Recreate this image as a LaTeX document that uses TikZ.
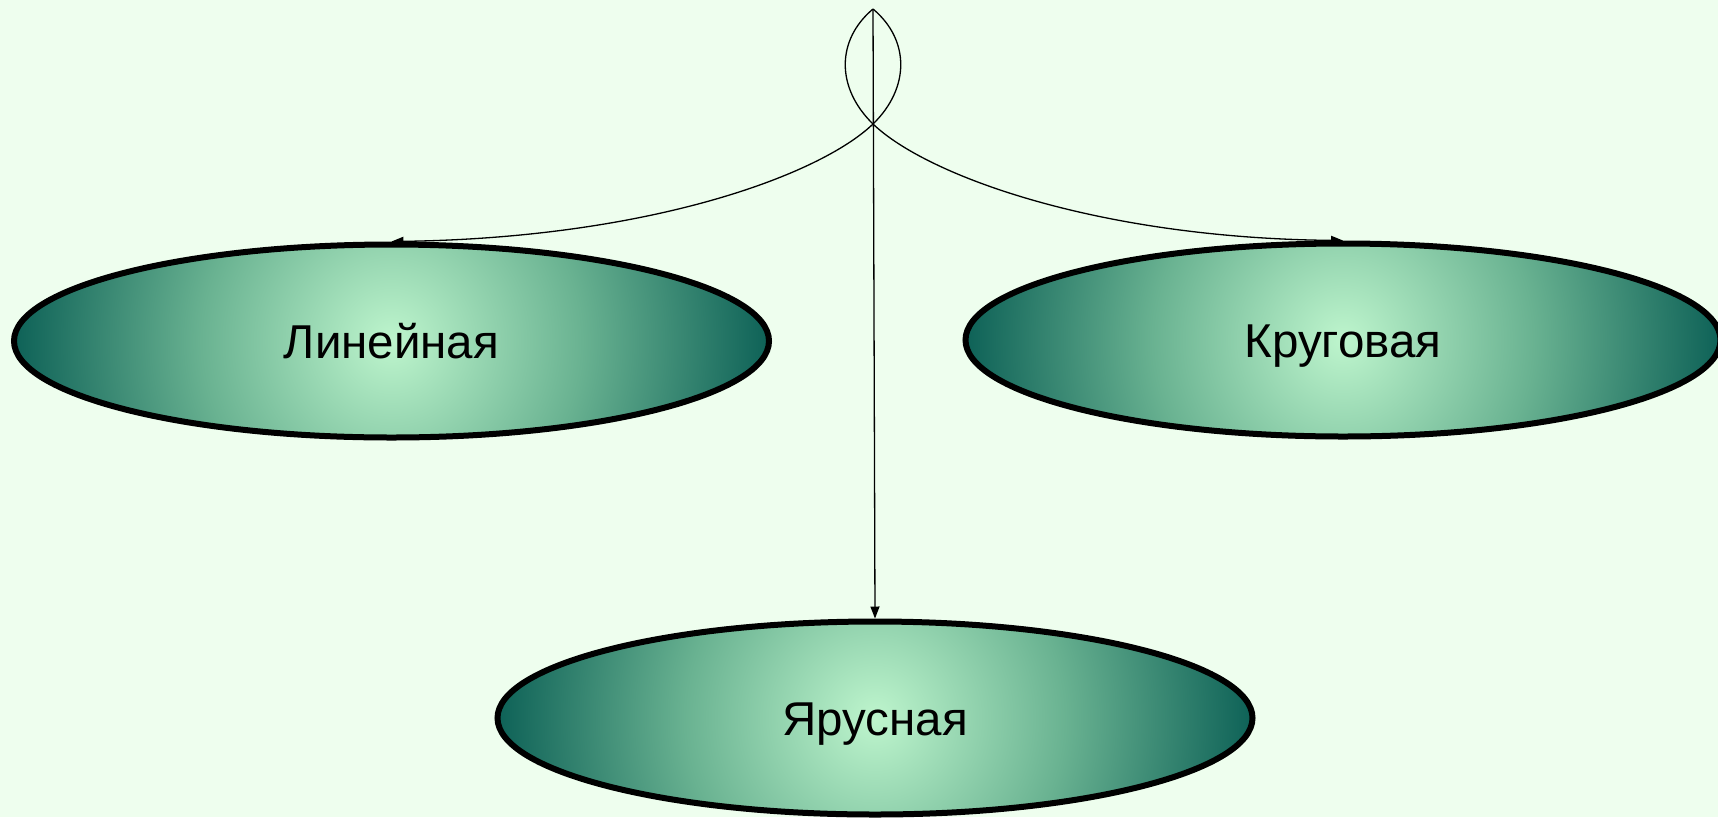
\documentclass[tikz,border=0pt]{standalone}
\usepackage{fontspec}
\setmainfont{Liberation Sans}
\usetikzlibrary{shapes.geometric,arrows.meta}
\definecolor{bgcol}{RGB}{238,254,238}
\definecolor{elllight}{RGB}{190,245,205}
\definecolor{ellmid}{RGB}{105,178,145}
\definecolor{elldark}{RGB}{12,96,86}
\pgfdeclareradialshading{ellshade}{\pgfpoint{0bp}{0bp}}{color(0bp)=(elllight); color(12.5bp)=(ellmid); color(25bp)=(elldark); color(50bp)=(elldark)}
\tikzset{
  ellnode/.style={shape=ellipse, draw=black, line width=6pt, inner sep=0pt,
    minimum width=755pt, minimum height=193pt,
    text height=34pt, text depth=0pt,
    font=\fontsize{47.5pt}{50pt}\selectfont,
    path picture={\shade[shading=ellshade] (path picture bounding box.center) circle (381pt);}},
  conn/.style={draw=black, line width=1.3pt, -{Triangle[length=12pt,width=9pt]}}
}
\begin{document}
\begin{tikzpicture}[x=1pt,y=-1pt]
\fill[bgcol] (0,0) rectangle (1718,817);
\useasboundingbox (0,0) rectangle (1718,817);
\node[ellnode] (lin) at (391.5,341) {Линейная};
\node[ellnode] (kru) at (1343,340) {Круговая};
\node[ellnode] (yar) at (875,718) {Ярусная};
\coordinate (root) at (873,9);
\coordinate (cross) at (873,124);
\draw[conn] (root) .. controls (910,40) and (910,88) .. (cross)
  .. controls (820,175) and (650,238) .. (lin.north);
\draw[conn] (root) .. controls (836,40) and (836,88) .. (cross)
  .. controls (926,175) and (1096,238) .. (kru.north);
\draw[conn] (root) -- (yar.north);
\end{tikzpicture}
\end{document}
